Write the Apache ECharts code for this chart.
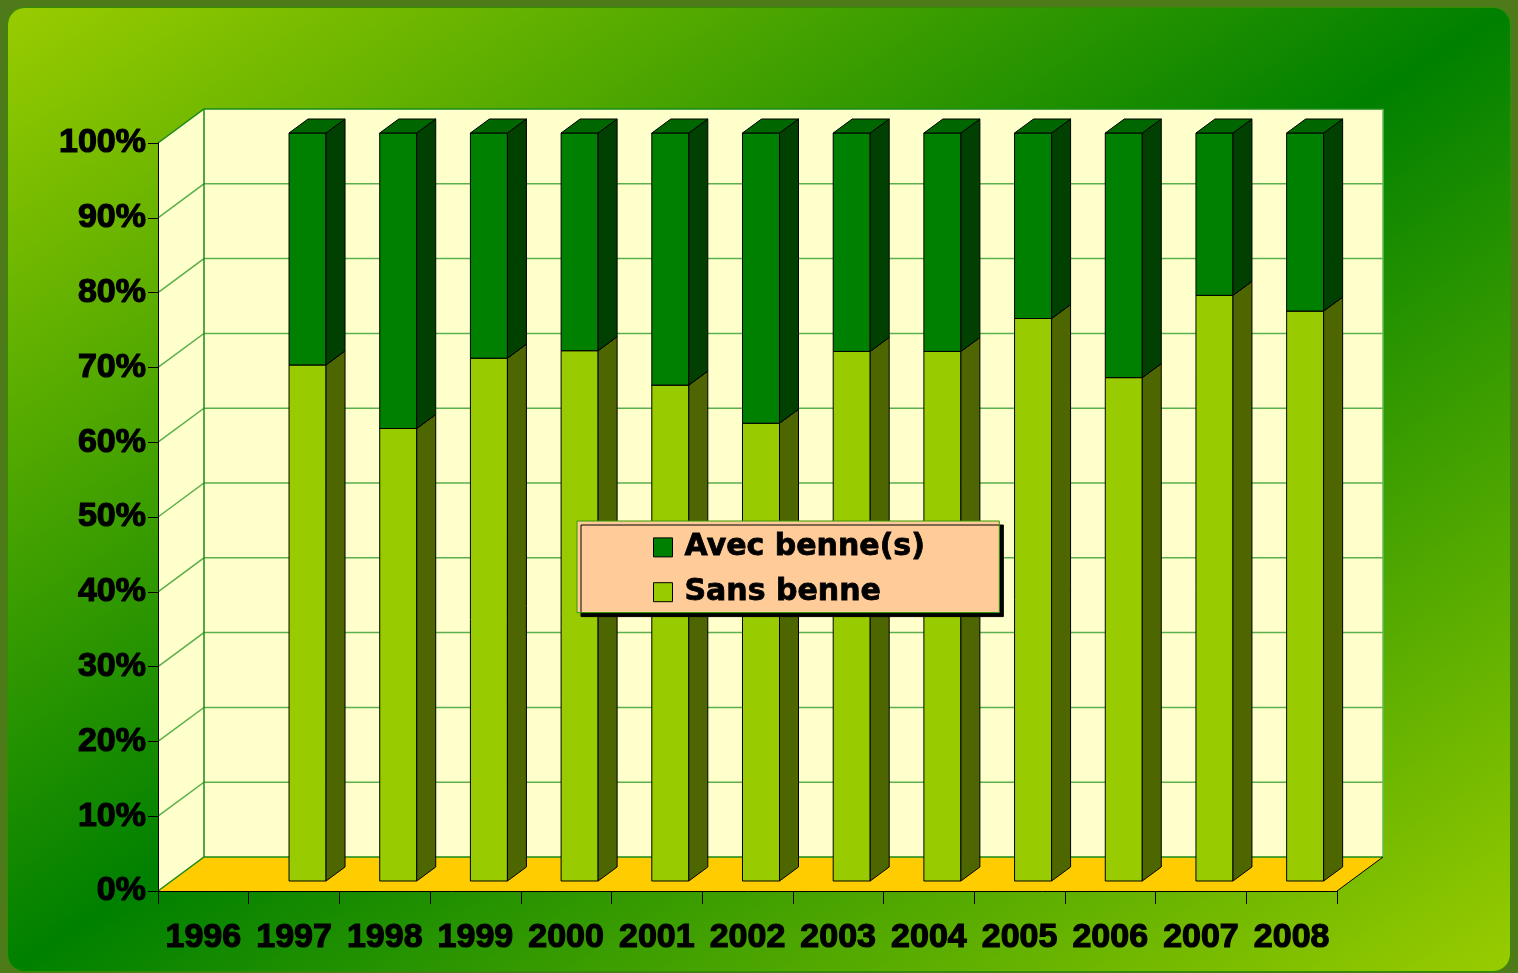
<!DOCTYPE html>
<html><head><meta charset="utf-8">
<script src="https://cdn.jsdelivr.net/npm/echarts@6/dist/echarts.min.js"></script>
<style>
html,body{margin:0;padding:0;width:1518px;height:973px;background:#4f7a1a;overflow:hidden}
#bg{position:absolute;left:7px;top:7px;width:1502px;height:963px;border-radius:18px;border:1px solid #2f8f00;background:linear-gradient(to bottom right,#99cc00 0%,#008000 50%,#99cc00 100%);}
#chart{position:absolute;left:0;top:0;width:1518px;height:973px}
</style></head><body>
<div id="bg"></div><div id="chart"></div>
<script>
// ---- data ----
const years = ['1996','1997','1998','1999','2000','2001','2002','2003','2004','2005','2006','2007','2008'];
const sansBenne = [null, 69.0, 60.5, 69.9, 70.9, 66.3, 61.2, 70.8, 70.8, 75.2, 67.3, 78.3, 76.2];
const avecBenne = [null, 31.0, 39.5, 30.1, 29.1, 33.7, 38.8, 29.2, 29.2, 24.8, 32.7, 21.7, 23.8];
const yTicks = [0, 10, 20, 30, 40, 50, 60, 70, 80, 90, 100];

// ---- presentation ----
const DX = 46, DY = -34;          // wall depth
const FX = 13.5, FY = -10;        // bar front face depth offset
const BX = 19, BY = -14;          // bar depth
const BAR_RATIO = 0.408;

const sansData = [], avecData = [];
years.forEach((y, i) => {
  if (sansBenne[i] != null) {
    sansData.push([i, 0, sansBenne[i]]);
    avecData.push([i, sansBenne[i], sansBenne[i] + avecBenne[i]]);
  }
});

function barRender(face, side, top) {
  return function (params, api) {
    const cat = api.value(0), v0 = api.value(1), v1 = api.value(2);
    const p0 = api.coord([cat, v0]), p1 = api.coord([cat, v1]);
    const bw = api.size([1, 0])[0] * BAR_RATIO;
    const x0 = p0[0] - bw / 2 + FX, x1 = x0 + bw;
    const yb = p0[1] + FY, yt = p1[1] + FY;
    const st = { stroke: '#000', lineWidth: 1 };
    return {
      type: 'group',
      children: [
        { type: 'polygon', shape: { points: [[x0, yb], [x1, yb], [x1, yt], [x0, yt]] }, style: Object.assign({ fill: face }, st) },
        { type: 'polygon', shape: { points: [[x1, yb], [x1 + BX, yb + BY], [x1 + BX, yt + BY], [x1, yt]] }, style: Object.assign({ fill: side }, st) },
        { type: 'polygon', shape: { points: [[x0, yt], [x1, yt], [x1 + BX, yt + BY], [x0 + BX, yt + BY]] }, style: Object.assign({ fill: top }, st) }
      ]
    };
  };
}

function wallRender(params, api) {
  const cs = params.coordSys;
  const L = cs.x, R = cs.x + cs.width, T = cs.y, B = cs.y + cs.height;
  const cream = '#ffffcc', edge = '#1a8a1a', grid = '#5cb04c';
  const ch = [];
  ch.push({ type: 'polygon', shape: { points: [[L, B], [L + DX, B + DY], [L + DX, T + DY], [L, T]] }, style: { fill: cream } });
  ch.push({ type: 'rect', shape: { x: L + DX, y: T + DY, width: R - L, height: B - T }, style: { fill: cream } });
  ch.push({ type: 'polygon', shape: { points: [[L, B], [R, B], [R + DX, B + DY], [L + DX, B + DY]] }, style: { fill: '#ffcc00' } });
  yTicks.forEach(v => {
    const y = api.coord([0, v])[1];
    const edgeLine = (v === 0 || v === 100);
    ch.push({ type: 'polyline', shape: { points: [[L, y], [L + DX, y + DY], [R + DX, y + DY]] },
      style: { stroke: edgeLine ? edge : grid, lineWidth: 1.5, fill: null } });
  });
  ch.push({ type: 'line', shape: { x1: L + DX, y1: T + DY, x2: L + DX, y2: B + DY }, style: { stroke: edge, lineWidth: 1.5 } });
  ch.push({ type: 'line', shape: { x1: R + DX, y1: T + DY, x2: R + DX, y2: B + DY }, style: { stroke: '#66bb55', lineWidth: 1.5 } });
  ch.push({ type: 'line', shape: { x1: R, y1: B, x2: R + DX, y2: B + DY }, style: { stroke: '#000', lineWidth: 1 } });
  return { type: 'group', children: ch };
}

const chart = echarts.init(document.getElementById('chart'), null, { renderer: 'canvas' });
chart.setOption({
  animation: false,
  backgroundColor: 'transparent',
  grid: { left: 158, top: 143, width: 1179, height: 748, containLabel: false },
  xAxis: {
    type: 'category', data: years, boundaryGap: true, z: 5,
    axisLine: { show: true, lineStyle: { color: '#000', width: 1 } },
    axisTick: { show: true, length: 13, lineStyle: { color: '#000', width: 1 } },
    axisLabel: { interval: 0, margin: 30, color: '#000', fontSize: 34, fontWeight: 'bold', fontFamily: 'Liberation Sans',
      textBorderColor: '#000', textBorderWidth: 1.2 },
    splitLine: { show: false }
  },
  yAxis: {
    type: 'value', min: 0, max: 100, interval: 10, z: 5,
    axisLine: { show: true, lineStyle: { color: '#000', width: 1 } },
    axisTick: { show: true, length: 10, lineStyle: { color: '#000', width: 1 } },
    axisLabel: { formatter: '{value}%', margin: 12, color: '#000', fontSize: 34, fontWeight: 'bold', fontFamily: 'Liberation Sans',
      textBorderColor: '#000', textBorderWidth: 1.2 },
    splitLine: { show: false }
  },
  legend: {
    data: ['Avec benne(s)', 'Sans benne'],
    orient: 'vertical', left: 577, top: 521,
    padding: [11, 74, 5, 76],
    itemWidth: 19, itemHeight: 19, itemGap: 14, icon: 'rect',
    backgroundColor: '#ffcc99', borderColor: '#339900', borderWidth: 1,
    shadowColor: '#000', shadowOffsetX: 4, shadowOffsetY: 4, shadowBlur: 0,
    itemStyle: { borderColor: '#000', borderWidth: 1 },
    textStyle: { color: '#000', fontSize: 30, fontWeight: 'bold', fontFamily: 'DejaVu Sans', lineHeight: 30, padding: [0, 0, 0, 7],
      textBorderColor: '#000', textBorderWidth: 0.8 }
  },
  series: [
    { name: 'walls', type: 'custom', z: 1, silent: true, data: [[0, 0]], encode: { x: 0, y: 1 }, renderItem: wallRender },
    { name: 'Sans benne', type: 'custom', z: 2, data: sansData, encode: { x: 0, y: [1, 2] },
      itemStyle: { color: '#99cc00', borderColor: '#000', borderWidth: 1 },
      renderItem: barRender('#99cc00', '#4d6600', '#7a9e00') },
    { name: 'Avec benne(s)', type: 'custom', z: 3, data: avecData, encode: { x: 0, y: [1, 2] },
      itemStyle: { color: '#008000', borderColor: '#000', borderWidth: 1 },
      renderItem: barRender('#008000', '#004000', '#006600') }
  ]
});
</script>
</body></html>
